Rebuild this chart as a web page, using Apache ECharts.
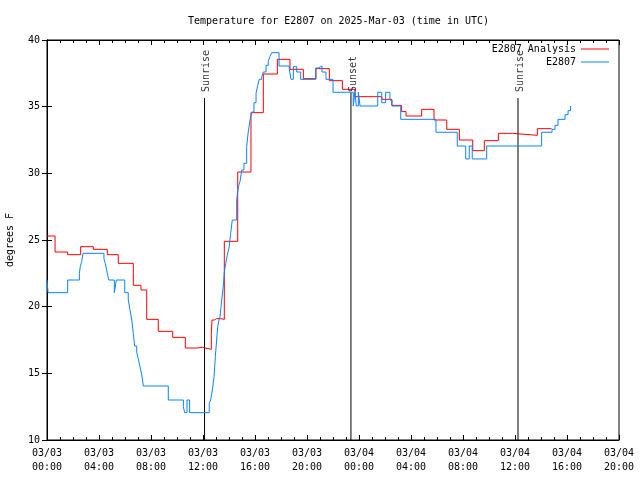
<!DOCTYPE html>
<html>
<head>
<meta charset="utf-8">
<script src="https://cdn.jsdelivr.net/npm/echarts@6/dist/echarts.min.js"></script>
<style>html,body{margin:0;padding:0;background:#fff}#c{width:640px;height:480px}</style>
</head>
<body>
<div id="c"></div>
<script>
// ---- data (time in hours since 2025-03-03 00:00 UTC, temperature in F) ----
const titleText = 'Temperature for E2807 on 2025-Mar-03 (time in UTC)';
const xTickLabels = ['03/03\n00:00','03/03\n04:00','03/03\n08:00','03/03\n12:00','03/03\n16:00','03/03\n20:00',
                     '03/04\n00:00','03/04\n04:00','03/04\n08:00','03/04\n12:00','03/04\n16:00','03/04\n20:00'];
const analysisHours = [0,0.62,1.59,2.59,3.56,4.64,5.48,6.64,7.23,7.67,8.56,9.67,10.64,11.56,11.95,12.64,12.69,12.88,13.04,13.19,13.36,13.64,
  14.67,15.69,16.64,17.72,18.69,19.72,20.69,21.72,22.72,23.69,25.75,26.52,27.28,27.62,28.82,29.77,30.75,31.72,32.75,33.64,34.72,35.82,37.72,38.82];
const analysisTemps = [25.3,24.1,23.9,24.5,24.3,23.9,23.25,21.6,21.25,19.05,18.15,17.7,16.9,16.95,16.8,17.9,19.0,19.1,19.25,19.1,19.05,24.9,
  30.1,34.55,37.45,38.55,37.8,37.1,37.85,36.95,36.3,35.75,35.55,35.1,34.63,34.3,34.8,34.0,33.3,32.5,31.7,32.45,33.0,32.85,33.35,33.35];
const obsHours = [0,0.08,1.59,2.49,2.56,2.67,2.77,4.38,4.48,4.62,4.75,5.18,5.33,5.98,6.25,6.38,6.52,6.64,6.74,6.9,7.02,7.15,7.28,7.41,
  9.33,10.49,10.59,10.77,10.97,12.48,12.59,12.72,12.85,12.95,13.05,13.13,13.23,13.31,13.44,13.56,13.64,13.75,13.87,14.0,14.13,14.25,
  14.59,14.72,14.85,14.98,15.15,15.36,15.48,15.62,15.75,15.92,16.08,16.21,16.33,16.52,16.64,16.85,17.02,17.15,17.28,
  17.85,18.64,18.77,18.95,19.21,19.51,20.67,20.87,21.15,21.46,22.0,23.56,23.69,23.79,23.95,24.08,25.44,25.75,26.05,26.38,26.54,
  27.21,29.92,31.56,32.21,32.48,32.71,33.82,38.05,38.85,39.08,39.31,39.85,40.08,40.27];
const obsTemps = [22.0,21.05,22.0,22.5,23.0,23.4,24.0,23.6,23.25,22.6,22.0,21.05,22.0,21.05,20.5,19.8,19.0,18.0,17.05,16.6,16.1,15.5,14.95,14.05,
  13.0,12.5,12.05,13.0,12.05,12.75,13.0,13.75,14.75,16.25,17.5,18.5,19.0,19.25,20.5,21.5,22.6,23.25,23.87,24.4,25.5,26.5,
  28.0,29.0,29.4,30.25,30.75,32.0,33.1,34.0,34.6,35.3,36.0,36.6,37.05,37.25,37.6,38.1,38.4,38.75,39.05,
  38.05,37.8,37.05,38.0,37.6,37.05,37.9,38.05,37.6,37.05,36.08,35.05,36.08,35.05,36.08,35.05,36.08,35.3,36.08,35.5,35.05,
  34.05,33.08,32.05,31.08,32.05,31.08,32.05,33.08,33.3,33.6,34.05,34.4,34.7,35.05];
const eventNames = ['Sunrise','Sunset','Sunrise'];
const eventHours = [12.12, 23.38, 36.23];
const eventLineTops = [35.65, 36.06, 35.65];
const eventLabelBase = 36.1;
const seriesNames = ['E2807 Analysis','E2807'];

const FONT = 'DejaVu Sans Mono';
const pair = (xs, ys) => xs.map((x, i) => [x, ys[i]]);

const eventSeries = eventHours.map((h, i) => ({
  type: 'line', name: 'ev' + i, silent: true, symbol: 'none', animation: false,
  lineStyle: { color: '#000', width: 1 }, z: 1,
  data: [[h, 10], [h, eventLineTops[i]]]
}));

const axisCommon = {
  type: 'value', min: 0, max: 44, interval: 4,
  axisLine: { show: true, lineStyle: { color: '#000', width: 1 } },
  axisTick: { show: true, inside: true, length: 5, lineStyle: { color: '#000' } },
  minorTick: { show: true, splitNumber: 4, length: 3, lineStyle: { color: '#000' } },
  splitLine: { show: false }, minorSplitLine: { show: false }
};
const yCommon = {
  type: 'value', min: 10, max: 40, interval: 5,
  axisLine: { show: true, lineStyle: { color: '#000', width: 1 } },
  axisTick: { show: true, inside: true, length: 5, lineStyle: { color: '#000' } },
  splitLine: { show: false }
};

const chart = echarts.init(document.getElementById('c'), null, { renderer: 'canvas' });
chart.setOption({
  animation: false,
  backgroundColor: '#fff',
  textStyle: { fontFamily: FONT },
  title: {
    text: titleText, left: 183, top: 11,
    textStyle: { fontFamily: FONT, fontSize: 10, fontWeight: 'normal', color: '#000' }
  },
  legend: {
    data: seriesNames, orient: 'vertical', right: 26, top: 38, align: 'right',
    itemWidth: 28, itemHeight: 1, itemGap: 1, icon: 'rect',
    textStyle: { fontFamily: FONT, fontSize: 10, color: '#000', lineHeight: 12 }
  },
  grid: { left: 47, right: 21, top: 40, bottom: 40, show: true, borderColor: '#000', borderWidth: 1,
          containLabel: false, outerBoundsMode: 'none' },
  xAxis: [
    Object.assign({}, axisCommon, {
      position: 'bottom',
      axisLabel: { show: true, margin: 6, color: '#000', fontFamily: FONT, fontSize: 10, lineHeight: 14,
        formatter: v => xTickLabels[Math.round(v / 4)] || '' }
    }),
    Object.assign({}, axisCommon, { position: 'top', axisLabel: { show: false } })
  ],
  yAxis: [
    Object.assign({}, yCommon, {
      position: 'left',
      name: 'degrees F', nameLocation: 'middle', nameGap: 32, nameRotate: 90,
      nameTextStyle: { fontFamily: FONT, fontSize: 10, color: '#000' },
      axisLabel: { show: true, margin: 7, color: '#000', fontFamily: FONT, fontSize: 10 }
    }),
    Object.assign({}, yCommon, { position: 'right', axisLabel: { show: false } })
  ],
  series: [
    {
      type: 'line', name: seriesNames[0], step: 'end', symbol: 'none', z: 3,
      color: '#ff0000', lineStyle: { color: '#ff0000', width: 1 },
      data: pair(analysisHours, analysisTemps)
    },
    {
      type: 'line', name: seriesNames[1], step: 'end', symbol: 'none', z: 4,
      color: '#0a84ff', lineStyle: { color: '#0a84ff', width: 1 },
      data: pair(obsHours, obsTemps)
    },
    ...eventSeries,
    {
      type: 'scatter', name: 'evlabels', silent: true, symbolSize: 0, z: 5,
      data: eventHours.map((h, i) => [h, eventLabelBase, eventNames[i]]),
      label: {
        show: true, position: [2, 0], rotate: 90, align: 'left', verticalAlign: 'middle',
        fontFamily: FONT, fontSize: 10, color: '#000',
        formatter: p => p.data[2]
      }
    }
  ]
});
</script>
</body>
</html>
